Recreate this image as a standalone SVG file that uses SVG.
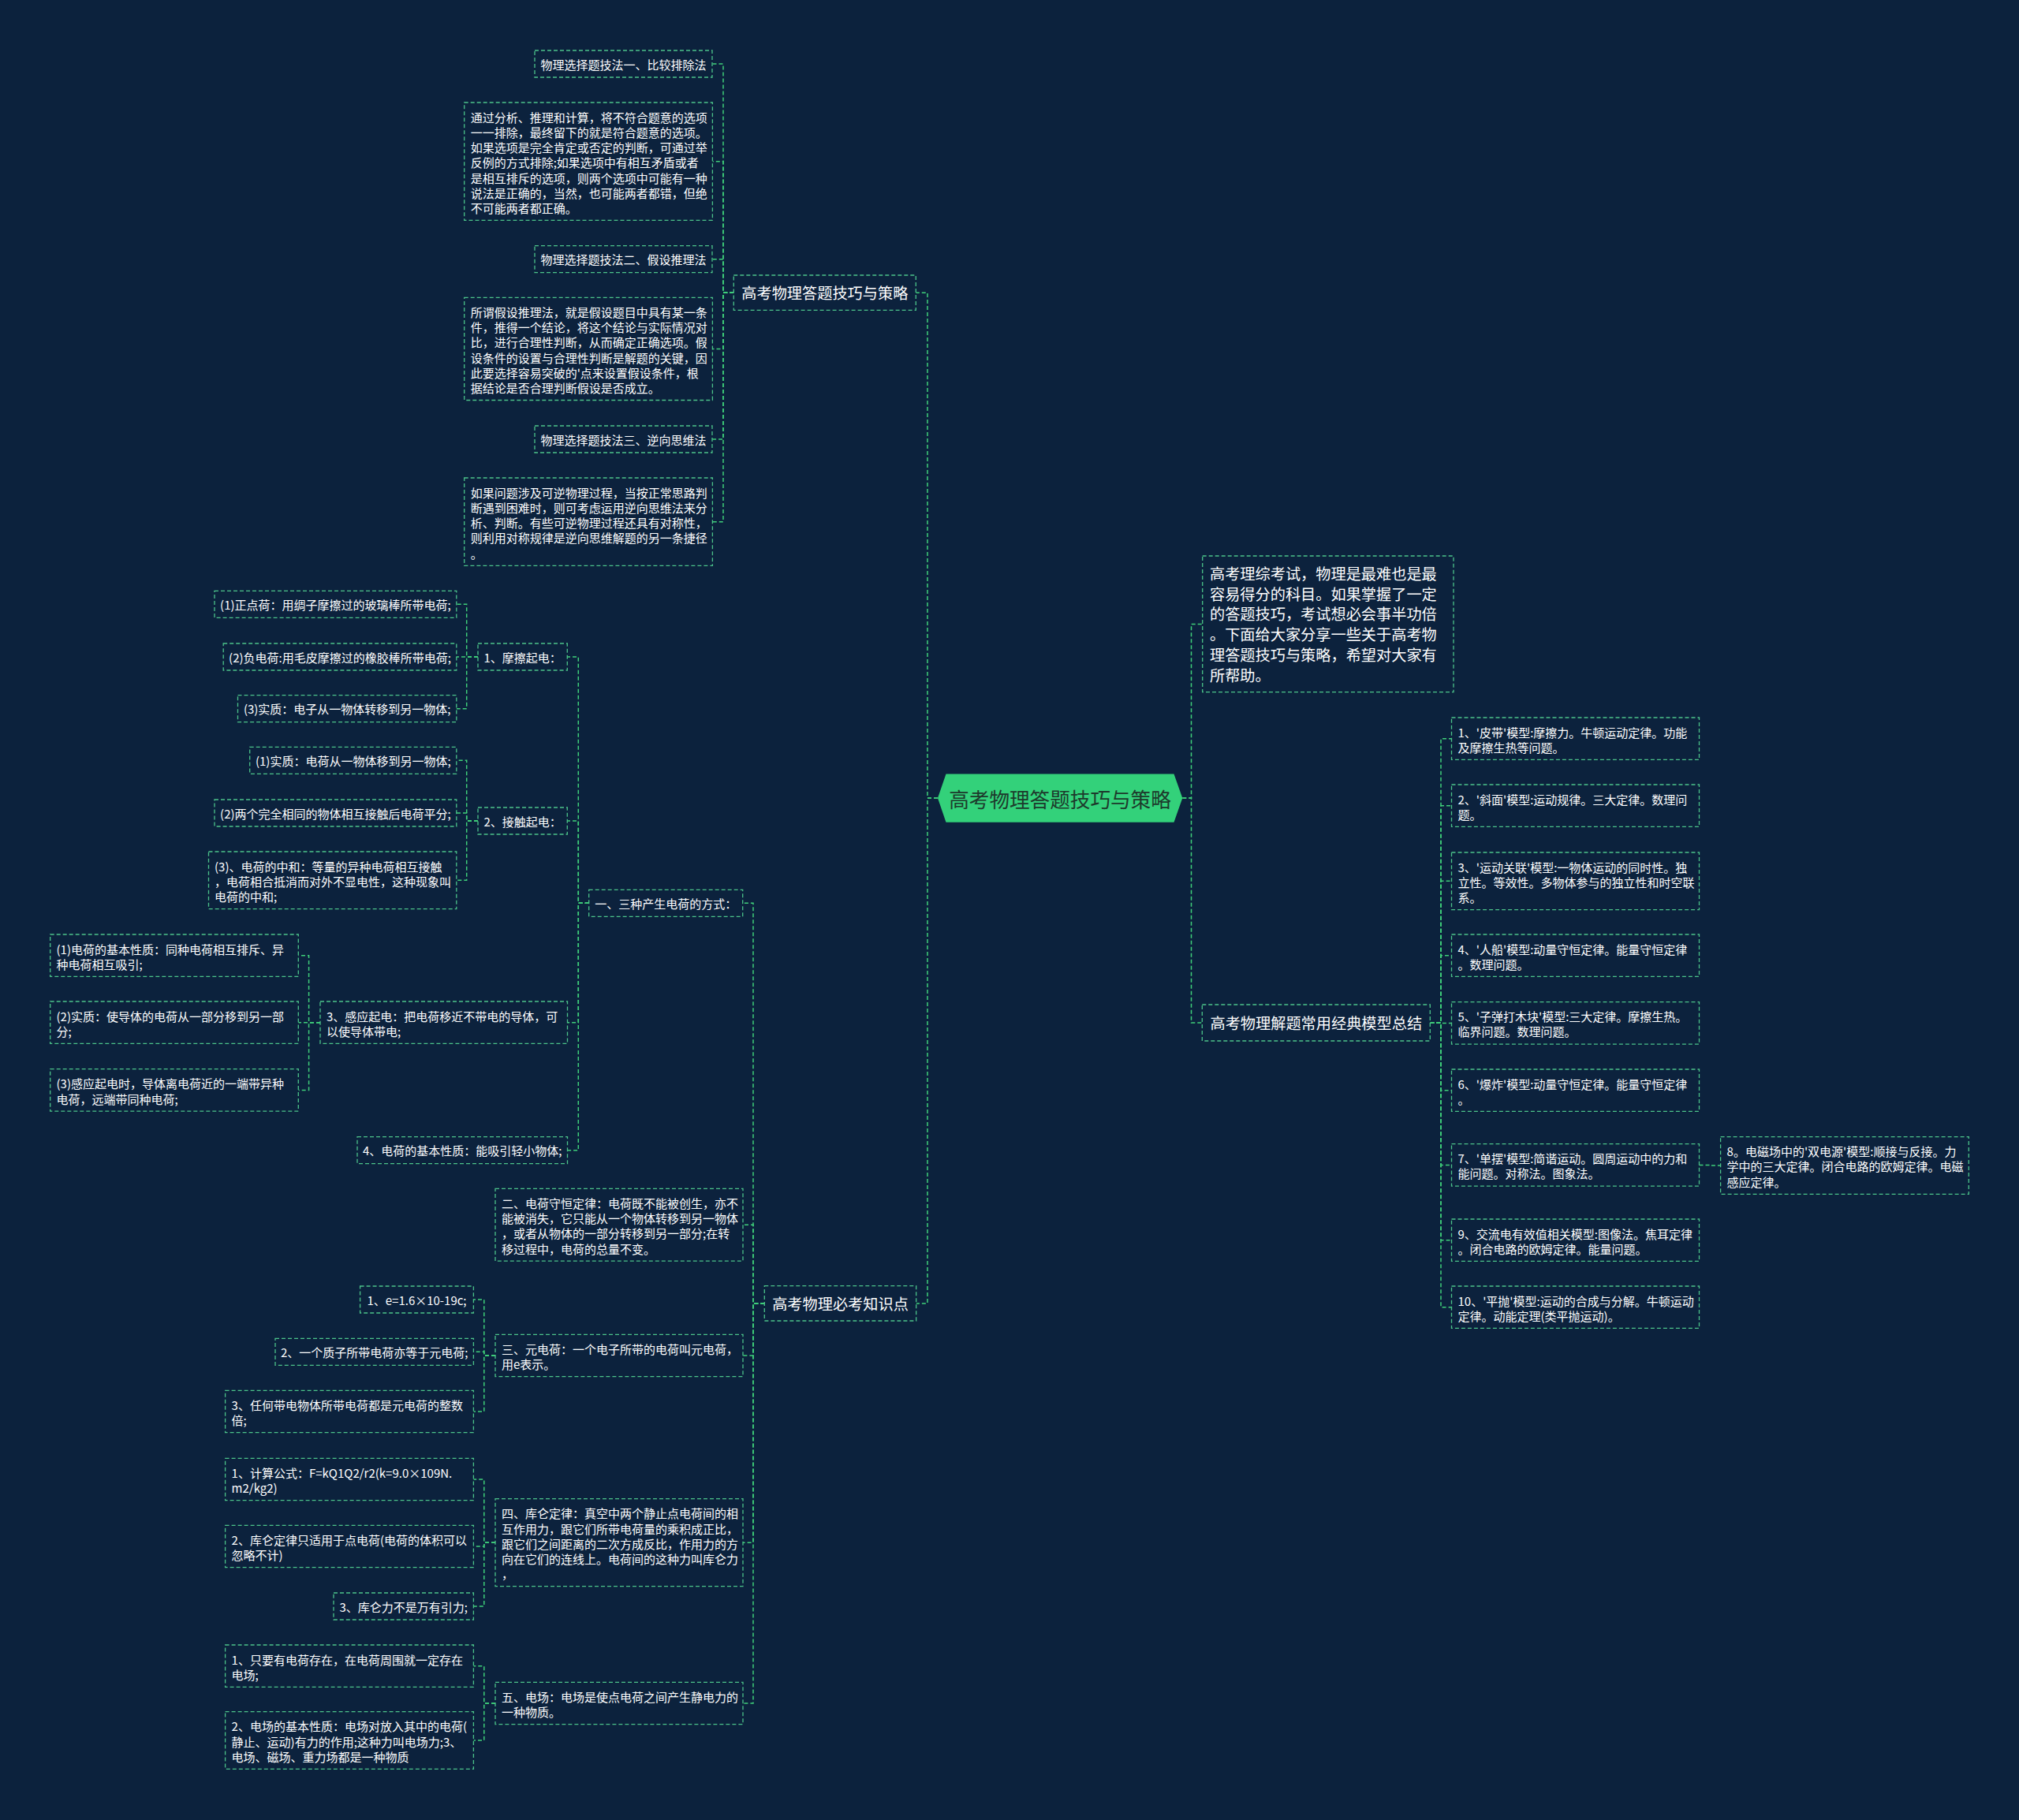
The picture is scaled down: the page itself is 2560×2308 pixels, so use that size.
<svg xmlns="http://www.w3.org/2000/svg" width="2560" height="2308" viewBox="0 0 2560 2308">
<style>
.n rect{fill:#0c223d;stroke:#4cc48a;stroke-width:1.3;stroke-dasharray:5 3}
.t{font-family:"Noto Sans CJK SC","Noto Sans",sans-serif;fill:#ffffff;font-size:15px;dominant-baseline:central}
.mc{text-anchor:middle}
.m{font-size:19.2px}
.c path{fill:none;stroke:#3fcf7a;stroke-width:1.5;stroke-dasharray:5 3}
</style>
<rect width="2560" height="2308" fill="#0c223d"/>
<g class="c" id="connectors">
<path d="M930.3 371.2H917V81H903"/>
<path d="M930.3 371.2H917V204.7H903.4"/>
<path d="M930.3 371.2H917V328.7H903"/>
<path d="M930.3 371.2H917V442.4H903.4"/>
<path d="M930.3 371.2H917V557H903"/>
<path d="M930.3 371.2H917V661.7H903.4"/>
<path d="M1189 1012H1176V371.2H1161.3"/>
<path d="M1189 1012H1176V1652.9H1161.7"/>
<path d="M1499.3 1012H1510.5V791.4H1524.7"/>
<path d="M1499.3 1012H1510.5V1297H1524.3"/>
<path d="M1813.3 1297H1827V936.7H1840.5"/>
<path d="M1813.3 1297H1827V1021.7H1840.5"/>
<path d="M1813.3 1297H1827V1117.3H1840.5"/>
<path d="M1813.3 1297H1827V1211.7H1840.5"/>
<path d="M1813.3 1297H1827V1297.4H1840.5"/>
<path d="M1813.3 1297H1827V1382.7H1840.5"/>
<path d="M1813.3 1297H1827V1477.4H1840.5"/>
<path d="M1813.3 1297H1827V1572.7H1840.5"/>
<path d="M1813.3 1297H1827V1657.7H1840.5"/>
<path d="M2154.5 1477.4H2168V1478H2181.6"/>
<path d="M969.3 1652.9H955V1145.3H941.7"/>
<path d="M969.3 1652.9H955V1553.2H942"/>
<path d="M969.3 1652.9H955V1719H942"/>
<path d="M969.3 1652.9H955V1956.2H942"/>
<path d="M969.3 1652.9H955V2160H942"/>
<path d="M746.7 1145.3H733.3V833H719.3"/>
<path d="M746.7 1145.3H733.3V1041H719.3"/>
<path d="M746.7 1145.3H733.3V1296.7H719.5"/>
<path d="M746.7 1145.3H733.3V1458.7H719.5"/>
<path d="M606 833H591.7V766.3H578.8"/>
<path d="M606 833H591.7V833H578.8"/>
<path d="M606 833H591.7V898.7H578.8"/>
<path d="M606 1041H591.7V964.3H578.8"/>
<path d="M606 1041H591.7V1031H578.8"/>
<path d="M606 1041H591.7V1116.3H578.8"/>
<path d="M406 1296.7H391.6V1211.7H378.3"/>
<path d="M406 1296.7H391.6V1296.7H378.3"/>
<path d="M406 1296.7H391.6V1382.4H378.3"/>
<path d="M628 1719H613.8V1648H600.4"/>
<path d="M628 1719H613.8V1714.3H600.4"/>
<path d="M628 1719H613.8V1790H600.4"/>
<path d="M628 1956.2H613.8V1876H600.4"/>
<path d="M628 1956.2H613.8V1961H600.4"/>
<path d="M628 1956.2H613.8V2037H600.4"/>
<path d="M628 2160H613.8V2112.7H600.4"/>
<path d="M628 2160H613.8V2207H600.4"/>
</g>

<g id="root">
<polygon points="1189,1012 1199.5,981.5 1488.5,981.5 1499.3,1012 1488.5,1042.7 1199.5,1042.7" fill="#33d17a"/>
<text class="t mc" x="1344" y="1012" style="font-size:25.6px;fill:#1d3a2c">高考物理答题技巧与策略</text>
</g>

<g id="b1" class="n"><rect x="930.3" y="349" width="231" height="44.3"/><text class="t m mc" x="1045.8" y="371.2">高考物理答题技巧与策略</text></g>
<g id="a1" class="n"><rect x="678" y="64" width="225" height="34"/><text class="t mc" x="790.5" y="81">物理选择题技法一、比较排除法</text></g>
<g id="a2" class="n"><rect x="588.7" y="130" width="314.7" height="149.4"/><text class="t" x="596.7" y="147.7"><tspan x="596.7">通过分析、推理和计算，将不符合题意的选项</tspan><tspan x="596.7" dy="19.2">一一排除，最终留下的就是符合题意的选项。</tspan><tspan x="596.7" dy="19.2">如果选项是完全肯定或否定的判断，可通过举</tspan><tspan x="596.7" dy="19.2">反例的方式排除;如果选项中有相互矛盾或者</tspan><tspan x="596.7" dy="19.2">是相互排斥的选项，则两个选项中可能有一种</tspan><tspan x="596.7" dy="19.2">说法是正确的，当然，也可能两者都错，但绝</tspan><tspan x="596.7" dy="19.2">不可能两者都正确。</tspan></text></g>
<g id="a3" class="n"><rect x="678" y="311.7" width="225" height="34"/><text class="t mc" x="790.5" y="328.7">物理选择题技法二、假设推理法</text></g>
<g id="a4" class="n"><rect x="588.7" y="377.3" width="314.7" height="130.2"/><text class="t" x="596.7" y="395"><tspan x="596.7">所谓假设推理法，就是假设题目中具有某一条</tspan><tspan x="596.7" dy="19.2">件，推得一个结论，将这个结论与实际情况对</tspan><tspan x="596.7" dy="19.2">比，进行合理性判断，从而确定正确选项。假</tspan><tspan x="596.7" dy="19.2">设条件的设置与合理性判断是解题的关键，因</tspan><tspan x="596.7" dy="19.2">此要选择容易突破的'点来设置假设条件，根</tspan><tspan x="596.7" dy="19.2">据结论是否合理判断假设是否成立。</tspan></text></g>
<g id="a5" class="n"><rect x="678" y="540" width="225" height="34"/><text class="t mc" x="790.5" y="557">物理选择题技法三、逆向思维法</text></g>
<g id="a6" class="n"><rect x="588.7" y="606" width="314.7" height="111.3"/><text class="t" x="596.7" y="623.7"><tspan x="596.7">如果问题涉及可逆物理过程，当按正常思路判</tspan><tspan x="596.7" dy="19.2">断遇到困难时，则可考虑运用逆向思维法来分</tspan><tspan x="596.7" dy="19.2">析、判断。有些可逆物理过程还具有对称性，</tspan><tspan x="596.7" dy="19.2">则利用对称规律是逆向思维解题的另一条捷径</tspan><tspan x="596.7" dy="19.2">。</tspan></text></g>

<g id="intro" class="n"><rect x="1524.7" y="705" width="318.3" height="172.7"/><text class="t m" x="1534" y="727"><tspan x="1534">高考理综考试，物理是最难也是最</tspan><tspan x="1534" dy="25.7">容易得分的科目。如果掌握了一定</tspan><tspan x="1534" dy="25.7">的答题技巧，考试想必会事半功倍</tspan><tspan x="1534" dy="25.7">。下面给大家分享一些关于高考物</tspan><tspan x="1534" dy="25.7">理答题技巧与策略，希望对大家有</tspan><tspan x="1534" dy="25.7">所帮助。</tspan></text></g>

<g id="b3" class="n"><rect x="1524.3" y="1274" width="289" height="46"/><text class="t m mc" x="1668.8" y="1297">高考物理解题常用经典模型总结</text></g>
<g id="m1" class="n"><rect x="1840.5" y="910" width="314" height="53.4"/><text class="t" x="1848.5" y="927.5"><tspan x="1848.5">1、'皮带'模型:摩擦力。牛顿运动定律。功能</tspan><tspan x="1848.5" dy="19.2">及摩擦生热等问题。</tspan></text></g>
<g id="m2" class="n"><rect x="1840.5" y="995" width="314" height="53.4"/><text class="t" x="1848.5" y="1012.5"><tspan x="1848.5">2、'斜面'模型:运动规律。三大定律。数理问</tspan><tspan x="1848.5" dy="19.2">题。</tspan></text></g>
<g id="m3" class="n"><rect x="1840.5" y="1081" width="314" height="72.6"/><text class="t" x="1848.5" y="1098.5"><tspan x="1848.5">3、'运动关联'模型:一物体运动的同时性。独</tspan><tspan x="1848.5" dy="19.2">立性。等效性。多物体参与的独立性和时空联</tspan><tspan x="1848.5" dy="19.2">系。</tspan></text></g>
<g id="m4" class="n"><rect x="1840.5" y="1185" width="314" height="53.4"/><text class="t" x="1848.5" y="1202.5"><tspan x="1848.5">4、'人船'模型:动量守恒定律。能量守恒定律</tspan><tspan x="1848.5" dy="19.2">。数理问题。</tspan></text></g>
<g id="m5" class="n"><rect x="1840.5" y="1270.7" width="314" height="53.4"/><text class="t" x="1848.5" y="1288.2"><tspan x="1848.5">5、'子弹打木块'模型:三大定律。摩擦生热。</tspan><tspan x="1848.5" dy="19.2">临界问题。数理问题。</tspan></text></g>
<g id="m6" class="n"><rect x="1840.5" y="1356" width="314" height="53.4"/><text class="t" x="1848.5" y="1373.5"><tspan x="1848.5">6、'爆炸'模型:动量守恒定律。能量守恒定律</tspan><tspan x="1848.5" dy="19.2">。</tspan></text></g>
<g id="m7" class="n"><rect x="1840.5" y="1450.7" width="314" height="53.4"/><text class="t" x="1848.5" y="1468.2"><tspan x="1848.5">7、'单摆'模型:简谐运动。圆周运动中的力和</tspan><tspan x="1848.5" dy="19.2">能问题。对称法。图象法。</tspan></text></g>
<g id="m8" class="n"><rect x="2181.6" y="1441.7" width="314.7" height="72.6"/><text class="t" x="2189.6" y="1459.2"><tspan x="2189.6">8。电磁场中的'双电源'模型:顺接与反接。力</tspan><tspan x="2189.6" dy="19.2">学中的三大定律。闭合电路的欧姆定律。电磁</tspan><tspan x="2189.6" dy="19.2">感应定律。</tspan></text></g>
<g id="m9" class="n"><rect x="1840.5" y="1546" width="314" height="53.4"/><text class="t" x="1848.5" y="1563.5"><tspan x="1848.5">9、交流电有效值相关模型:图像法。焦耳定律</tspan><tspan x="1848.5" dy="19.2">。闭合电路的欧姆定律。能量问题。</tspan></text></g>
<g id="m10" class="n"><rect x="1840.5" y="1631" width="314" height="53.4"/><text class="t" x="1848.5" y="1648.5"><tspan x="1848.5">10、'平抛'模型:运动的合成与分解。牛顿运动</tspan><tspan x="1848.5" dy="19.2">定律。动能定理(类平抛运动)。</tspan></text></g>

<g id="b2" class="n"><rect x="969.3" y="1630.7" width="192.4" height="44.3"/><text class="t m mc" x="1065.5" y="1652.9">高考物理必考知识点</text></g>
<g id="c1" class="n"><rect x="746.7" y="1128.3" width="195" height="34"/><text class="t mc" x="844.2" y="1145.3">一、三种产生电荷的方式：</text></g>
<g id="c2" class="n"><rect x="628" y="1507.3" width="314" height="91.8"/><text class="t" x="636" y="1525"><tspan x="636">二、电荷守恒定律：电荷既不能被创生，亦不</tspan><tspan x="636" dy="19.2">能被消失，它只能从一个物体转移到另一物体</tspan><tspan x="636" dy="19.2">，或者从物体的一部分转移到另一部分;在转</tspan><tspan x="636" dy="19.2">移过程中，电荷的总量不变。</tspan></text></g>
<g id="c3" class="n"><rect x="628" y="1692.3" width="314" height="53.4"/><text class="t" x="636" y="1710"><tspan x="636">三、元电荷：一个电子所带的电荷叫元电荷，</tspan><tspan x="636" dy="19.2">用e表示。</tspan></text></g>
<g id="c4" class="n"><rect x="628" y="1900.7" width="314" height="111"/><text class="t" x="636" y="1918.4"><tspan x="636">四、库仑定律：真空中两个静止点电荷间的相</tspan><tspan x="636" dy="19.2">互作用力，跟它们所带电荷量的乘积成正比，</tspan><tspan x="636" dy="19.2">跟它们之间距离的二次方成反比，作用力的方</tspan><tspan x="636" dy="19.2">向在它们的连线上。电荷间的这种力叫库仑力</tspan><tspan x="636" dy="19.2">，</tspan></text></g>
<g id="c5" class="n"><rect x="628" y="2133.3" width="314" height="53.4"/><text class="t" x="636" y="2151"><tspan x="636">五、电场：电场是使点电荷之间产生静电力的</tspan><tspan x="636" dy="19.2">一种物质。</tspan></text></g>

<g id="d1" class="n"><rect x="606" y="816" width="113.3" height="34"/><text class="t mc" x="662.6" y="833">1、摩擦起电：</text></g>
<g id="d2" class="n"><rect x="606" y="1024" width="113.3" height="34"/><text class="t mc" x="662.6" y="1041">2、接触起电：</text></g>
<g id="d3" class="n"><rect x="406" y="1270" width="313.5" height="53.4"/><text class="t" x="414" y="1287.7"><tspan x="414">3、感应起电：把电荷移近不带电的导体，可</tspan><tspan x="414" dy="19.2">以使导体带电;</tspan></text></g>
<g id="d4" class="n"><rect x="453" y="1441.7" width="266.5" height="34"/><text class="t mc" x="586.2" y="1458.7">4、电荷的基本性质：能吸引轻小物体;</text></g>

<g id="e1" class="n"><rect x="272" y="749.3" width="306.8" height="34"/><text class="t mc" x="425.4" y="766.3">(1)正点荷：用绸子摩擦过的玻璃棒所带电荷;</text></g>
<g id="e2" class="n"><rect x="283.2" y="816" width="295.6" height="34"/><text class="t mc" x="431" y="833">(2)负电荷:用毛皮摩擦过的橡胶棒所带电荷;</text></g>
<g id="e3" class="n"><rect x="301.5" y="881.7" width="277.3" height="34"/><text class="t mc" x="440.2" y="898.7">(3)实质：电子从一物体转移到另一物体;</text></g>
<g id="e4" class="n"><rect x="316.7" y="947.3" width="262.1" height="34"/><text class="t mc" x="447.8" y="964.3">(1)实质：电荷从一物体移到另一物体;</text></g>
<g id="e5" class="n"><rect x="272" y="1014" width="306.8" height="34"/><text class="t mc" x="425.4" y="1031">(2)两个完全相同的物体相互接触后电荷平分;</text></g>
<g id="e6" class="n"><rect x="264.5" y="1080" width="314.3" height="72.6"/><text class="t" x="272" y="1097.7"><tspan x="272">(3)、电荷的中和：等量的异种电荷相互接触</tspan><tspan x="272" dy="19.2">，电荷相合抵消而对外不显电性，这种现象叫</tspan><tspan x="272" dy="19.2">电荷的中和;</tspan></text></g>

<g id="f1" class="n"><rect x="63.7" y="1185" width="314.6" height="53.4"/><text class="t" x="71.5" y="1202.7"><tspan x="71.5">(1)电荷的基本性质：同种电荷相互排斥、异</tspan><tspan x="71.5" dy="19.2">种电荷相互吸引;</tspan></text></g>
<g id="f2" class="n"><rect x="63.7" y="1270" width="314.6" height="53.4"/><text class="t" x="71.5" y="1287.7"><tspan x="71.5">(2)实质：使导体的电荷从一部分移到另一部</tspan><tspan x="71.5" dy="19.2">分;</tspan></text></g>
<g id="f3" class="n"><rect x="63.7" y="1355.7" width="314.6" height="53.4"/><text class="t" x="71.5" y="1373.4"><tspan x="71.5">(3)感应起电时，导体离电荷近的一端带异种</tspan><tspan x="71.5" dy="19.2">电荷，远端带同种电荷;</tspan></text></g>

<g id="g1" class="n"><rect x="456.6" y="1631" width="143.8" height="34"/><text class="t mc" x="528.5" y="1648">1、e=1.6×10-19c;</text></g>
<g id="g2" class="n"><rect x="349" y="1697.3" width="251.4" height="34"/><text class="t mc" x="474.7" y="1714.3">2、一个质子所带电荷亦等于元电荷;</text></g>
<g id="g3" class="n"><rect x="285.6" y="1763.3" width="314.8" height="53.4"/><text class="t" x="293.6" y="1781"><tspan x="293.6">3、任何带电物体所带电荷都是元电荷的整数</tspan><tspan x="293.6" dy="19.2">倍;</tspan></text></g>

<g id="h1" class="n"><rect x="285.6" y="1849.3" width="314.8" height="53.4"/><text class="t" x="293.6" y="1867"><tspan x="293.6">1、计算公式：F=kQ1Q2/r2(k=9.0×109N.</tspan><tspan x="293.6" dy="19.2">m2/kg2)</tspan></text></g>
<g id="h2" class="n"><rect x="285.6" y="1934.3" width="314.8" height="53.4"/><text class="t" x="293.6" y="1952"><tspan x="293.6">2、库仑定律只适用于点电荷(电荷的体积可以</tspan><tspan x="293.6" dy="19.2">忽略不计)</tspan></text></g>
<g id="h3" class="n"><rect x="423" y="2020" width="177.4" height="34"/><text class="t mc" x="511.7" y="2037">3、库仑力不是万有引力;</text></g>

<g id="i1" class="n"><rect x="285.6" y="2086" width="314.8" height="53.4"/><text class="t" x="293.6" y="2103.7"><tspan x="293.6">1、只要有电荷存在，在电荷周围就一定存在</tspan><tspan x="293.6" dy="19.2">电场;</tspan></text></g>
<g id="i2" class="n"><rect x="285.6" y="2170.7" width="314.8" height="72.6"/><text class="t" x="293.6" y="2188.4"><tspan x="293.6">2、电场的基本性质：电场对放入其中的电荷(</tspan><tspan x="293.6" dy="19.2">静止、运动)有力的作用;这种力叫电场力;3、</tspan><tspan x="293.6" dy="19.2">电场、磁场、重力场都是一种物质</tspan></text></g>
</svg>
